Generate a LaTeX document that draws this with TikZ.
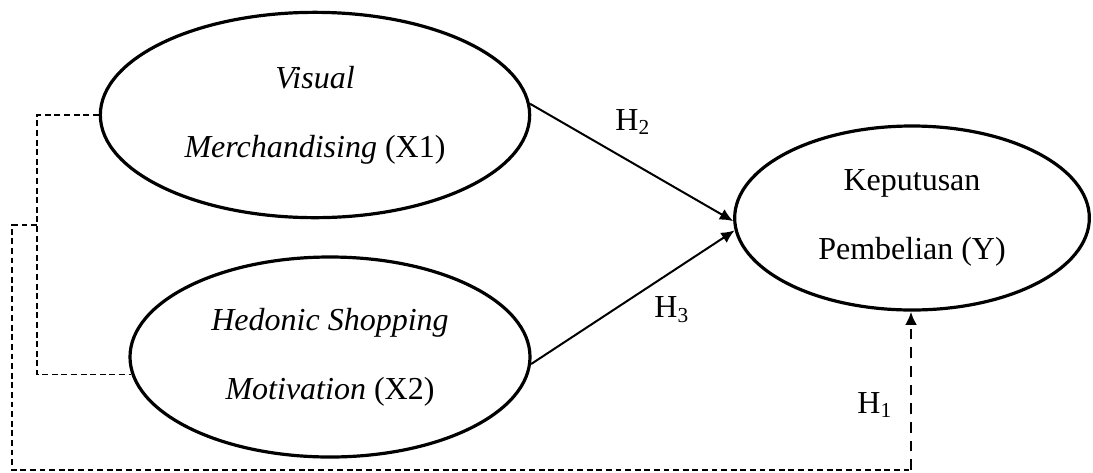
\documentclass[tikz,border=0pt]{standalone}
\usepackage{fontspec}
\setmainfont{Liberation Serif}
\usetikzlibrary{shapes.geometric,arrows.meta}

\begin{document}
\begin{tikzpicture}[x=0.375pt,y=-0.375pt,
   var/.style={ellipse,draw=black,line width=1.2pt,inner sep=0pt,align=center,
      font=\fontsize{12}{26}\selectfont},
   path/.style={line width=0.75pt,-{Latex[length=5pt,width=4.5pt]}},
   thindash/.style={line width=0.4pt,dash pattern=on 2.2pt off 1.4pt},
   thickdash/.style={line width=1.1pt,dash pattern=on 4pt off 3pt,-{Latex[length=5pt,width=4.5pt]}},
   lbl/.style={font=\fontsize{12}{14}\selectfont}]
   \useasboundingbox (0,0) rectangle (1093,472);
   % latent variables
   \node[var,minimum width=161pt,minimum height=77pt] (x1) at (315,115)
      {\textit{Visual}\\\textit{Merchandising} (X1)};
   \node[var,minimum width=150pt,minimum height=75pt] (x2) at (330,357)
      {\textit{Hedonic Shopping}\\\textit{Motivation} (X2)};
   \node[var,minimum width=133pt,minimum height=69pt] (y) at (912,218)
      {Keputusan\\Pembelian (Y)};
   % direct paths
   \draw[path] (x1.3) -- (y.181);
   \draw[path] (x2.-2) -- (y.184);
   \node[lbl] (h2) at (633,122) {H\textsubscript{2}};
   \node[lbl] (h3) at (672,310) {H\textsubscript{3}};
   % simultaneous path
   \coordinate (jn) at (37,225);
   \coordinate (lo) at (12,470);
   \coordinate (hb) at (911,470);
   \draw[thindash] (x1.west) -| (jn) |- (x2.185);
   \draw[thindash] (jn) -| (lo) -- (hb);
   \draw[thickdash] (hb) -- (y.south -| hb);
   \node[lbl] (h1) at (875,405) {H\textsubscript{1}};
\end{tikzpicture}
\end{document}
